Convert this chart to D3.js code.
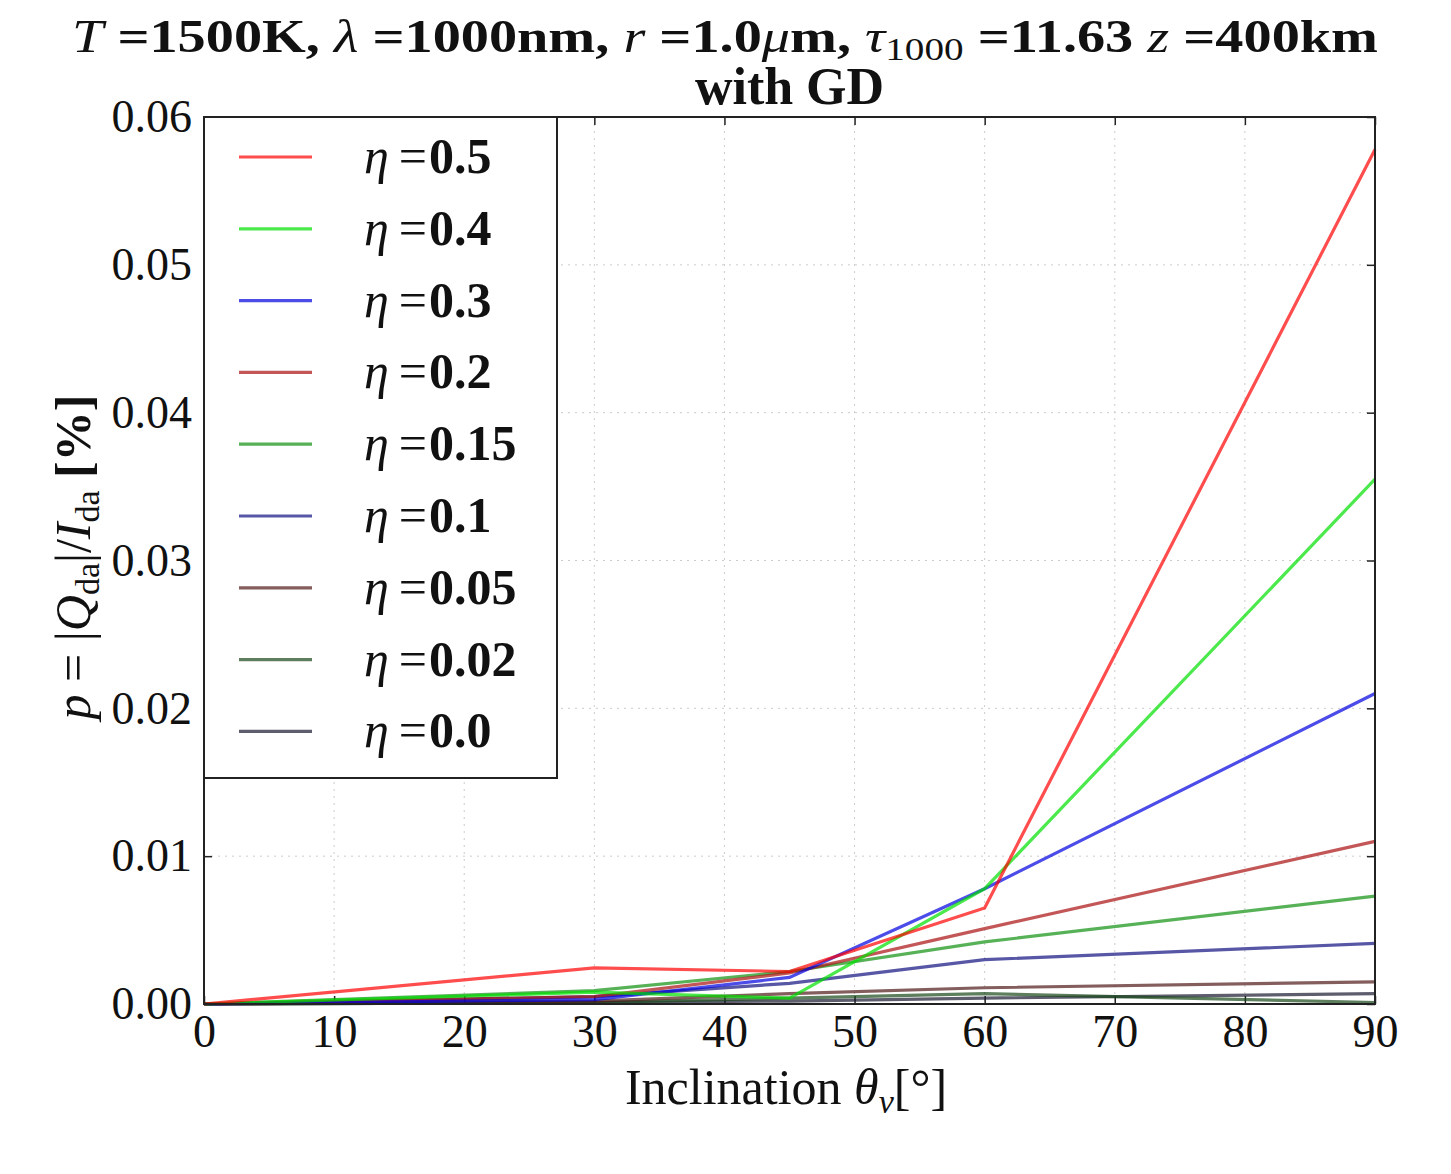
<!DOCTYPE html>
<html>
<head>
<meta charset="utf-8">
<script src="https://cdn.jsdelivr.net/npm/d3@7"></script>
<style>
  body { margin: 0; background: #fff; }
  text { font-family: "Liberation Serif", "DejaVu Serif", serif; fill: #111; }
  .grid line { stroke: #ccc; stroke-dasharray: 2,5; }
</style>
</head>
<body>
<div id="chart"></div>
<script>
// data
var inclination = [0, 30, 45, 60, 90];
var etaLabels = ["0.5", "0.4", "0.3", "0.2", "0.15", "0.1", "0.05", "0.02", "0.0"];
var eta05  = [0, 0.00244, 0.0022, 0.0065, 0.0578];
var eta04  = [0, 0.0008, 0.0004, 0.0078, 0.0355];
var eta03  = [0, 0.0003, 0.0018, 0.0078, 0.0210];
var eta02  = [0, 0.0005, 0.0021, 0.0051, 0.0110];
var eta015 = [0, 0.0009, 0.0022, 0.0042, 0.0073];
var eta01  = [0, 0.0005, 0.0014, 0.0030, 0.0041];
var eta005 = [0, 0.0002, 0.0007, 0.0011, 0.0015];
var eta002 = [0, 0.0001, 0.0004, 0.0007, 0.0001];
var eta00  = [0, 0.0001, 0.0002, 0.0004, 0.0007];
var xTicks = [0, 10, 20, 30, 40, 50, 60, 70, 80, 90];
var yTicks = [0, 0.01, 0.02, 0.03, 0.04, 0.05, 0.06];

var seriesValues = [eta05, eta04, eta03, eta02, eta015, eta01, eta005, eta002, eta00];
var colors = ["#ff0000", "#00e000", "#0000e0", "#aa1010", "#109010", "#101080", "#501818", "#184818", "#181830"];

var svgWidth = 1451;
var svgHeight = 1174;
var margin = { top: 117, right: 76, bottom: 170, left: 204 };
var width = svgWidth - margin.left - margin.right;
var height = svgHeight - margin.top - margin.bottom;

var svg = d3.select("#chart")
  .append("svg")
  .attr("width", svgWidth)
  .attr("height", svgHeight);

var chartGroup = svg.append("g")
  .attr("transform", `translate(${margin.left}, ${margin.top})`);

var xScale = d3.scaleLinear().domain([0, 90]).range([0, width]);
var yScale = d3.scaleLinear().domain([0, 0.06]).range([height, 0]);

// grid
chartGroup.append("g").attr("class", "grid")
  .selectAll("line").data(xTicks.slice(1, -1)).enter().append("line")
  .attr("x1", d => xScale(d)).attr("x2", d => xScale(d))
  .attr("y1", 0).attr("y2", height);
chartGroup.append("g").attr("class", "grid")
  .selectAll("line").data(yTicks.slice(1, -1)).enter().append("line")
  .attr("y1", d => yScale(d)).attr("y2", d => yScale(d))
  .attr("x1", 0).attr("x2", width);

// axes, ticks pointing inward on all four sides
function styleAxis(g) {
  g.select(".domain").remove();
  g.selectAll(".tick line").attr("stroke", "#222").attr("stroke-width", 1.5);
  g.selectAll(".tick text").style("font-size", "46px").attr("fill", "#111");
}

chartGroup.append("g")
  .attr("transform", `translate(0, ${height})`)
  .call(d3.axisBottom(xScale).tickValues(xTicks).tickSizeInner(-8).tickPadding(10).tickFormat(d3.format("d")))
  .call(styleAxis);
chartGroup.append("g")
  .call(d3.axisTop(xScale).tickValues(xTicks).tickSizeInner(-8).tickFormat(""))
  .call(styleAxis);
chartGroup.append("g")
  .call(d3.axisLeft(yScale).tickValues(yTicks).tickSizeInner(-8).tickPadding(12).tickFormat(d3.format(".2f")))
  .call(styleAxis);
chartGroup.append("g")
  .attr("transform", `translate(${width}, 0)`)
  .call(d3.axisRight(yScale).tickValues(yTicks).tickSizeInner(-8).tickFormat(""))
  .call(styleAxis);

// lines
var line = d3.line()
  .x((d, i) => xScale(inclination[i]))
  .y(d => yScale(d));

chartGroup.selectAll(".series")
  .data(seriesValues.slice().reverse())
  .enter()
  .append("path")
  .attr("class", "series")
  .attr("d", d => line(d))
  .attr("fill", "none")
  .attr("stroke", (d, i) => colors[colors.length - 1 - i])
  .attr("stroke-opacity", 0.7)
  .attr("stroke-width", 3.2)
  .attr("stroke-linejoin", "miter");

// frame
chartGroup.append("rect")
  .attr("width", width).attr("height", height)
  .attr("fill", "none").attr("stroke", "#222").attr("stroke-width", 2);

// legend
var legend = chartGroup.append("g");
legend.append("rect")
  .attr("x", 0).attr("y", 0)
  .attr("width", 353).attr("height", 661)
  .attr("fill", "#fff").attr("stroke", "#222").attr("stroke-width", 2);

var legendItems = legend.selectAll(".item")
  .data(etaLabels)
  .enter()
  .append("g")
  .attr("transform", (d, i) => `translate(0, ${40 + i * 71.8})`);

legendItems.append("line")
  .attr("x1", 35).attr("x2", 108)
  .attr("stroke", (d, i) => colors[i])
  .attr("stroke-opacity", 0.7)
  .attr("stroke-width", 3.2);

var legendText = legendItems.append("text")
  .attr("x", 160).attr("y", 16)
  .style("font-size", "50px");
legendText.append("tspan").style("font-style", "italic").text("η");
legendText.append("tspan").attr("dx", 10).text("=");
legendText.append("tspan").attr("dx", 2).style("font-weight", "bold").text(d => d);

// title
var title1 = svg.append("text")
  .attr("x", 72).attr("y", 52)
  .attr("textLength", 1306)
  .attr("lengthAdjust", "spacingAndGlyphs")
  .style("font-size", "46px");
title1.append("tspan").style("font-style", "italic").text("T");
title1.append("tspan").style("font-weight", "bold").text(" =1500K, ");
title1.append("tspan").style("font-style", "italic").text("λ");
title1.append("tspan").style("font-weight", "bold").text(" =1000nm, ");
title1.append("tspan").style("font-style", "italic").text("r");
title1.append("tspan").style("font-weight", "bold").text(" =1.0");
title1.append("tspan").style("font-style", "italic").text("μ");
title1.append("tspan").style("font-weight", "bold").text("m, ");
title1.append("tspan").style("font-style", "italic").text("τ");
title1.append("tspan").attr("dy", 8).style("font-size", "32px").text("1000");
title1.append("tspan").attr("dy", -8).style("font-weight", "bold").text(" =11.63 ");
title1.append("tspan").style("font-style", "italic").text("z");
title1.append("tspan").style("font-weight", "bold").text(" =400km");

svg.append("text")
  .attr("x", margin.left + width / 2).attr("y", 104)
  .attr("text-anchor", "middle")
  .style("font-size", "52px")
  .style("font-weight", "bold")
  .text("with GD");

// x label
var xLabel = svg.append("text")
  .attr("x", 786).attr("y", 1104)
  .attr("text-anchor", "middle")
  .style("font-size", "50px");
xLabel.append("tspan").text("Inclination ");
xLabel.append("tspan").style("font-style", "italic").text("θ");
xLabel.append("tspan").attr("dy", 9).style("font-style", "italic").style("font-size", "34px").text("v");
xLabel.append("tspan").attr("dy", -9).text("[°]");

// y label
var yLabel = svg.append("text")
  .attr("transform", "translate(90, 557) rotate(-90)")
  .attr("text-anchor", "middle")
  .style("font-size", "50px");
yLabel.append("tspan").style("font-style", "italic").text("p");
yLabel.append("tspan").text(" = |");
yLabel.append("tspan").style("font-style", "italic").text("Q");
yLabel.append("tspan").attr("dy", 9).style("font-size", "34px").text("da");
yLabel.append("tspan").attr("dy", -9).text("|/");
yLabel.append("tspan").style("font-style", "italic").text("I");
yLabel.append("tspan").attr("dy", 9).style("font-size", "34px").text("da");
yLabel.append("tspan").attr("dy", -9).style("font-weight", "bold").text(" [%]");
</script>
</body>
</html>
